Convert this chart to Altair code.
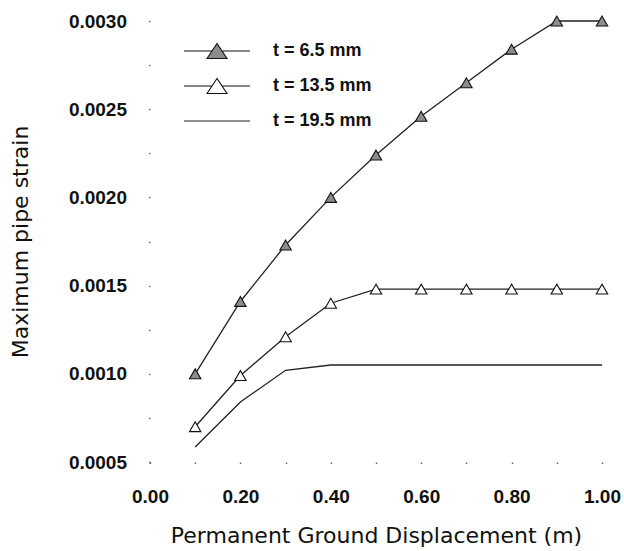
import altair as alt
import pandas as pd

# ---- data ----
x_values = [0.1, 0.2, 0.3, 0.4, 0.5, 0.6, 0.7, 0.8, 0.9, 1.0]
strain_6_5 = [0.00100, 0.00141, 0.00173, 0.00200, 0.00224, 0.00246, 0.00265, 0.00284, 0.00300, 0.00300]
strain_13_5 = [0.00070, 0.00099, 0.00121, 0.00140, 0.00148, 0.00148, 0.00148, 0.00148, 0.00148, 0.00148]
strain_19_5 = [0.000585, 0.00084, 0.00102, 0.00105, 0.00105, 0.00105, 0.00105, 0.00105, 0.00105, 0.00105]
series_names = ["t = 6.5 mm", "t = 13.5 mm", "t = 19.5 mm"]

x_ticks = [0.0, 0.1, 0.2, 0.3, 0.4, 0.5, 0.6, 0.7, 0.8, 0.9, 1.0]
y_ticks = [0.0005, 0.00075, 0.0010, 0.00125, 0.0015, 0.00175, 0.0020, 0.00225, 0.0025, 0.00275, 0.0030]

rows = []
for name, vals in zip(series_names, [strain_6_5, strain_13_5, strain_19_5]):
    for xv, yv in zip(x_values, vals):
        rows.append({"pgd": xv, "strain": yv, "series": name})
df = pd.DataFrame(rows)

TICK_FONT = "Liberation Sans"
TITLE_FONT = "DejaVu Sans"

x_enc = alt.X(
    "pgd:Q",
    scale=alt.Scale(domain=[0, 1], nice=False, zero=False),
    axis=alt.Axis(
        values=x_ticks,
        labelExpr="round(datum.value*10) % 2 == 0 ? format(datum.value, '.2f') : ''",
        title="Permanent Ground Displacement (m)",
        domain=False, grid=False,
        tickSize=1.5, tickWidth=1.5, tickColor="#666666",
        labelFont=TICK_FONT, labelFontSize=19, labelFontWeight="bold", labelColor="#111111",
        labelPadding=24, labelFlush=False, labelOverlap=False, labelBound=False,
        titleFont=TITLE_FONT, titleFontSize=22, titleFontWeight="normal", titleColor="#111111",
        titleX=226, titleY=80, titleBaseline="alphabetic",
    ),
)
y_enc = alt.Y(
    "strain:Q",
    scale=alt.Scale(domain=[0.0005, 0.0030], nice=False, zero=False),
    axis=alt.Axis(
        values=y_ticks,
        labelExpr="round(datum.value*10000) % 5 == 0 ? format(datum.value, '.4f') : ''",
        title="Maximum pipe strain",
        domain=False, grid=False,
        tickSize=1.5, tickWidth=1.5, tickColor="#666666",
        labelFont=TICK_FONT, labelFontSize=19, labelFontWeight="bold", labelColor="#111111",
        labelPadding=22, labelOverlap=False, labelBound=False, labelFlush=False,
        titleFont=TITLE_FONT, titleFontSize=22, titleFontWeight="normal", titleColor="#111111",
        titleX=-123, titleY=220.5, titleAngle=270, titleBaseline="alphabetic",
    ),
)

base = alt.Chart(df)

lines = base.mark_line(stroke="#222222", strokeWidth=1.3).encode(
    x=x_enc, y=y_enc, detail="series:N"
)

points = base.transform_filter(
    alt.datum.series != "t = 19.5 mm"
).mark_point(shape="triangle-up", size=130, filled=False, stroke="#111111", strokeWidth=1.1, opacity=1).encode(
    x=x_enc, y=y_enc,
    fill=alt.condition(alt.datum.series == "t = 6.5 mm", alt.value("#8c8c8c"), alt.value("white")),
)

# legend symbols: line with triangle (custom SVG paths)
tri_path = "M-3,0H-0.45M0.45,0H3M-0.91,0.68L0,-0.68L0.91,0.68Z"
line_path = "M-3,0H3"


def make_legend():
    return alt.Legend(
        title=None, orient="none", legendX=55, legendY=18, padding=0,
        symbolSize=484, symbolStrokeWidth=1.1,
        symbolOpacity=1, labelOffset=44, rowPadding=13,
        labelFont=TICK_FONT, labelFontSize=18, labelFontWeight="bold", labelColor="#111111",
        labelLimit=300,
    )


legend_layer = base.transform_filter("false").mark_point(
    filled=False, strokeWidth=1.1
).encode(
    shape=alt.Shape(
        "series:N",
        scale=alt.Scale(domain=series_names, range=[tri_path, tri_path, line_path]),
        legend=make_legend(),
    ),
    fill=alt.Fill(
        "series:N",
        scale=alt.Scale(domain=series_names, range=["#8c8c8c", "white", "transparent"]),
        legend=make_legend(),
    ),
    stroke=alt.Stroke(
        "series:N",
        scale=alt.Scale(domain=series_names, range=["#111111", "#111111", "#222222"]),
        legend=make_legend(),
    ),
)

chart = alt.layer(lines, points, legend_layer).properties(
    width=452,
    height=441,
    autosize=alt.AutoSizeParams(type="none"),
    padding={"left": 150, "top": 21, "right": 22, "bottom": 89},
    background="white",
).configure_view(stroke=None)

chart.save("out.html", embed_options={"renderer": "svg", "actions": False})
